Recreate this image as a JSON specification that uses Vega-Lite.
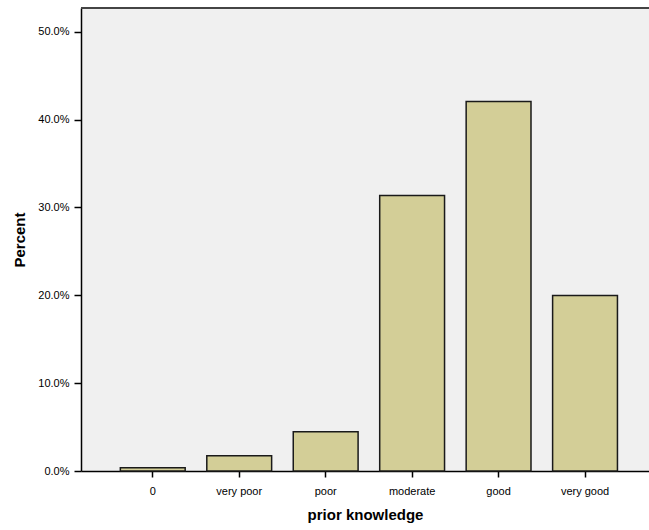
{
  "$schema": "https://vega.github.io/schema/vega-lite/v6.json",
  "autosize": "none",
  "width": 568,
  "height": 463,
  "padding": {"left": 81, "top": 8, "right": 0, "bottom": 59},
  "background": "white",
  "config": {
    "view": {"fill": "#f0f0f0", "stroke": null},
    "font": "Liberation Sans"
  },
  "data": {
    "values": [
      {"knowledge": "0", "percent": 0.0038},
      {"knowledge": "very poor", "percent": 0.0174},
      {"knowledge": "poor", "percent": 0.0448},
      {"knowledge": "moderate", "percent": 0.3135},
      {"knowledge": "good", "percent": 0.4206},
      {"knowledge": "very good", "percent": 0.1997}
    ]
  },
  "layer": [
    {
      "mark": {"type": "bar", "fill": "#d3ce97", "stroke": "#1a1a1a", "strokeWidth": 1.5},
      "encoding": {
        "x": {
          "field": "knowledge",
          "type": "ordinal",
          "sort": null,
          "scale": {"paddingInner": 0.25, "paddingOuter": 0.41, "align": 0.555},
          "axis": {
            "title": "prior knowledge",
            "titleFont": "Liberation Sans",
            "titleFontSize": 15,
            "titleFontWeight": "bold",
            "titleColor": "black",
            "titlePadding": 11,
            "labelAngle": 0,
            "labelFontSize": 11,
            "labelColor": "black",
            "labelPadding": 8,
            "tickColor": "black",
            "tickSize": 6,
            "tickWidth": 1.5,
            "domainColor": "black",
            "domainWidth": 1.5
          }
        },
        "y": {
          "field": "percent",
          "type": "quantitative",
          "scale": {"domain": [0, 0.527], "nice": false},
          "axis": {
            "title": "Percent",
            "titleFont": "Liberation Sans",
            "titleFontSize": 15,
            "titleFontWeight": "bold",
            "titleColor": "black",
            "titlePadding": 10,
            "values": [0, 0.1, 0.2, 0.3, 0.4, 0.5],
            "format": ".1%",
            "grid": false,
            "labelFontSize": 11,
            "labelColor": "black",
            "labelPadding": 5,
            "tickColor": "black",
            "tickSize": 7,
            "tickWidth": 1.5,
            "domainColor": "black",
            "domainWidth": 1.5
          }
        }
      }
    },
    {
      "mark": {"type": "rule", "color": "#444444", "strokeWidth": 2},
      "encoding": {"y": {"datum": 0.527}}
    }
  ]
}
